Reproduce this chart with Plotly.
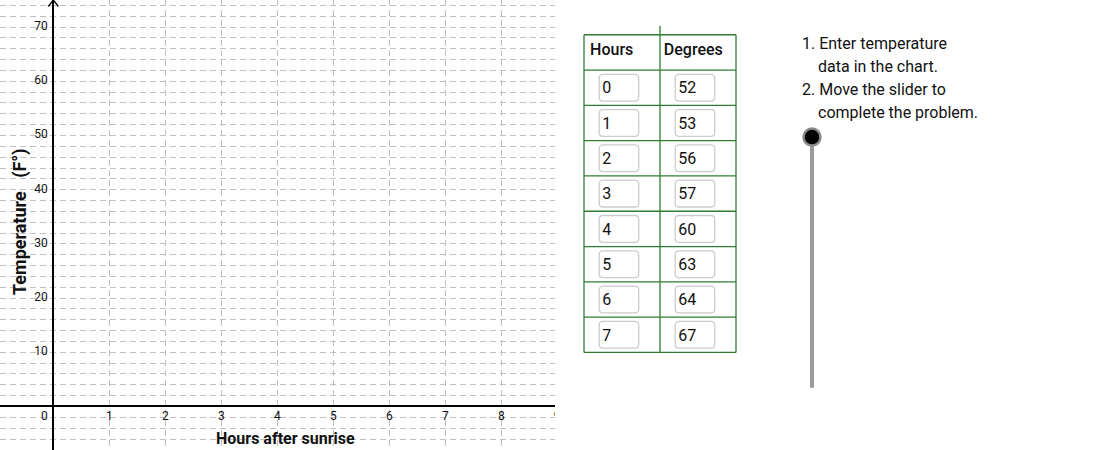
import plotly.graph_objects as go

# temperature table: hours after sunrise -> degrees F
hours = [0, 1, 2, 3, 4, 5, 6, 7]
degrees = [52, 53, 56, 57, 60, 63, 64, 67]
headers = ['Hours', 'Degrees']

# axis labels of the empty chart
x_ticks = [1, 2, 3, 4, 5, 6, 7, 8, 9]
y_ticks = [10, 20, 30, 40, 50, 60, 70]

steps = ['1. Enter temperature', 'data in the chart.',
         '2. Move the slider to', 'complete the problem.']

FONT = 'Roboto'
GREEN = '#2e7d32'
GRID = '#c0c0c0'
W, H = 1114, 450

fig = go.Figure()

# tick labels are drawn inside the plot, next to the axes (geogebra style)
fig.add_trace(go.Scatter(
    x=x_ticks, y=[-2] * len(x_ticks), mode='text',
    text=[str(t) for t in x_ticks],
    textfont=dict(family=FONT, size=12, color='#111'),
    hoverinfo='skip', cliponaxis=True))
fig.add_trace(go.Scatter(
    x=[-0.1] * (len(y_ticks) + 1), y=y_ticks + [-2], mode='text',
    text=[str(t) for t in y_ticks] + ['0'], textposition='middle left',
    textfont=dict(family=FONT, size=12, color='#111'),
    hoverinfo='skip', cliponaxis=True))

# table text (second axis pair: x = column, y = row)
fig.add_trace(go.Scatter(
    x=[0.08, 1.05], y=[-1.05, -1.05], mode='text', text=headers,
    textposition='middle right', xaxis='x2', yaxis='y2',
    textfont=dict(family=FONT, size=16, color='#111', weight=500),
    hoverinfo='skip'))
fig.add_trace(go.Scatter(
    x=[0.24] * len(hours), y=[i + 0.05 for i in range(len(hours))], mode='text',
    text=[str(h) for h in hours], textposition='middle right',
    xaxis='x2', yaxis='y2',
    textfont=dict(family=FONT, size=16, color='#111'), hoverinfo='skip'))
fig.add_trace(go.Scatter(
    x=[1.24] * len(degrees), y=[i + 0.05 for i in range(len(degrees))], mode='text',
    text=[str(d) for d in degrees], textposition='middle right',
    xaxis='x2', yaxis='y2',
    textfont=dict(family=FONT, size=16, color='#111'), hoverinfo='skip'))


def rrect(x0, x1, y0, y1, rx=0.05, ry=0.11):
    return (f'M {x0+rx},{y0} L {x1-rx},{y0} Q {x1},{y0} {x1},{y0+ry} '
            f'L {x1},{y1-ry} Q {x1},{y1} {x1-rx},{y1} L {x0+rx},{y1} '
            f'Q {x0},{y1} {x0},{y1-ry} L {x0},{y0+ry} Q {x0},{y0} {x0+rx},{y0} Z')


shapes = []
# input boxes
for i in range(len(hours)):
    for c in (0, 1):
        shapes.append(dict(type='path', xref='x2', yref='y2',
                           path=rrect(c + 0.2, c + 0.72, i - 0.38, i + 0.38),
                           line=dict(color='#cccccc', width=1.3),
                           fillcolor='white', layer='below'))
# table grid
n = len(hours)
for k in range(n + 2):
    y = k - 1.5
    shapes.append(dict(type='line', xref='x2', yref='y2', x0=0, x1=2, y0=y, y1=y,
                       line=dict(color=GREEN, width=1.3)))
for c in (0, 1, 2):
    shapes.append(dict(type='line', xref='x2', yref='y2', x0=c, x1=c,
                       y0=-1.75 if c == 1 else -1.5, y1=n - 0.5,
                       line=dict(color=GREEN, width=1.3)))

# arrow head on the y axis
shapes.append(dict(type='path', xref='x', yref='y',
                   path='M -0.09,73.8 L 0,75 L 0.09,73.8',
                   line=dict(color='black', width=1.3)))

# slider track (under the knob)
shapes.append(dict(type='line', xref='x2', yref='y2', x0=3, x1=3, y0=1.4, y1=8.5,
                   line=dict(color='#9a9a9a', width=4), layer='below'))
fig.add_trace(go.Scatter(x=[3], y=[1.4], mode='markers', xaxis='x2', yaxis='y2',
                         marker=dict(size=17, color='black',
                                     line=dict(color='#8a8a8a', width=2.5)),
                         hoverinfo='skip', cliponaxis=False))

annotations = [
    dict(text='<b>Temperature   (F°)</b>', xref='paper', yref='paper',
         x=20 / W, y=1 - 222 / H, xanchor='center', yanchor='middle',
         textangle=-90, showarrow=False,
         font=dict(family=FONT, size=18, color='#111')),
    dict(text='<b>Hours after sunrise</b>', xref='paper', yref='paper',
         x=285 / W, y=1 - 438 / H, xanchor='center', yanchor='middle',
         showarrow=False, font=dict(family=FONT, size=16, color='#111')),
]
step_x = [800, 816, 800, 816]
step_y = [44, 67, 89.5, 112]
for t, sx, sy in zip(steps, step_x, step_y):
    annotations.append(dict(text=t, xref='paper', yref='paper', x=sx / W,
                            y=1 - sy / H, xanchor='left', yanchor='middle',
                            showarrow=False,
                            font=dict(family=FONT, size=16, color='#111')))

fig.update_layout(
    width=W, height=H, margin=dict(l=0, r=0, t=0, b=0),
    paper_bgcolor='white', plot_bgcolor='white', showlegend=False,
    shapes=shapes, annotations=annotations,
    xaxis=dict(domain=[0, 555 / W], range=[-0.952, 8.96], dtick=1, tick0=0,
               showgrid=True, gridcolor=GRID, gridwidth=1, griddash='6px,4px',
               zeroline=True, zerolinecolor='black', zerolinewidth=1.5,
               showticklabels=False, ticks='', fixedrange=True),
    yaxis=dict(domain=[0, 1], range=[-8.03, 75.0], dtick=2, tick0=0,
               showgrid=True, gridcolor=GRID, gridwidth=1, griddash='6px,4px',
               zeroline=True, zerolinecolor='black', zerolinewidth=1.5,
               showticklabels=False, ticks='', fixedrange=True),
    xaxis2=dict(domain=[555 / W, 1], range=[-0.3816, 6.9737], visible=False,
                anchor='y2', fixedrange=True),
    yaxis2=dict(domain=[0, 1], range=[10.2635, -2.4844], visible=False,
                anchor='x2', fixedrange=True),
)

# drop the default page margin so the figure sits at the window corner
fig.write_html('out.html', config={'displayModeBar': False},
               post_script="document.body.style.margin='0';")
